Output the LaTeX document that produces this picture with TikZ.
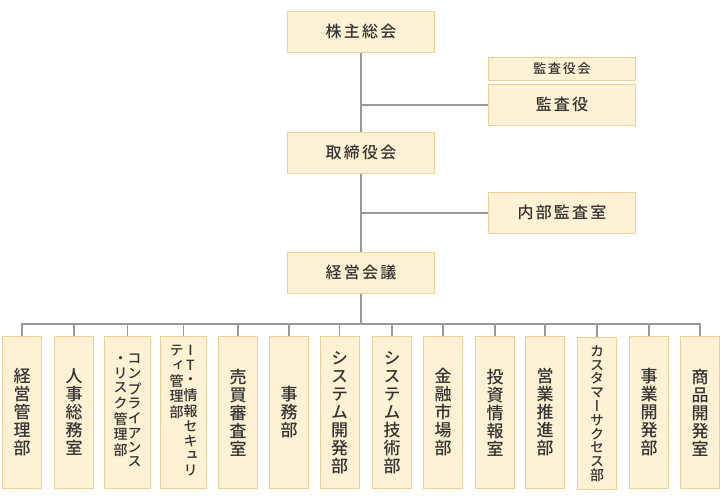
\documentclass[tikz,border=0pt]{standalone}
\usepackage{fontspec}
\setmainfont{Noto Sans CJK JP}[UprightFont=* Medium, LetterSpace=14]
\newfontfamily\tate{Noto Sans CJK JP}[UprightFont=* Medium, RawFeature=+vert]
\newfontfamily\yoko{Noto Sans CJK JP}[UprightFont=* Medium]
\usetikzlibrary{positioning,calc}

\definecolor{boxfill}{HTML}{FFF1D3}
\definecolor{boxline}{HTML}{E8D29A}
\definecolor{linkgray}{HTML}{999999}
\definecolor{txt}{HTML}{333333}

% one column of vertical text
\newcommand{\vcol}[1]{\begin{tabular}[t]{@{}c@{}}#1\end{tabular}}

\begin{document}
\begin{tikzpicture}[x=1pt, y=-1pt,
    post/.style={draw=boxline, fill=boxfill, line width=1pt, text=txt,
      minimum width=147pt, minimum height=41pt, inner sep=0pt,
      font=\fontsize{16}{18}\selectfont},
    dept/.style={draw=boxline, fill=boxfill, line width=1pt, text=txt,
      minimum width=39pt, minimum height=152pt, inner sep=0pt, align=center,
      font=\tate\fontsize{17}{18}\selectfont},
    wide/.style={dept, minimum width=46pt, font=\tate\fontsize{14}{14}\selectfont},
    link/.style={draw=linkgray, line width=1.5pt}]
    \useasboundingbox (0,0) rectangle (720,500);

    % Top management
    \node[post] (soukai) at (361,31.7) {株主総会};
    \node[post] (torishimari) at (361,152.7) {取締役会};
    \node[post] (keiei) at (361,272.7) {経営会議};

    % Audit side
    \node[post, minimum height=23pt, font=\fontsize{13}{14}\selectfont] (kansakai) at (562,68.8) {監査役会};
    \node[post] (kansa) at (562,104.8) {監査役};
    \node[post] (naibu) at (562,212.8) {内部監査室};

    % Departments
    \node[dept] (d1) at (22,412.5) {経\\営\\管\\理\\部};
    \node[dept] (d2) at (74,412.5) {人\\事\\総\\務\\室};
    \node[wide] (d3) at (127.5,412.5) {\vcol{・\\リ\\ス\\ク\\管\\理\\部}\vcol{コ\\ン\\プ\\ラ\\イ\\ア\\ン\\ス}};
    \node[wide] (d4) at (183.5,412.5) {\vcol{テ\\ィ\\管\\理\\部}\vcol{{\yoko I}\\{\yoko T}\\・\\情\\報\\セ\\キ\\ュ\\リ}};
    \node[dept] (d5) at (238,412.5) {売\\買\\審\\査\\室};
    \node[dept] (d6) at (289,412.5) {事\\務\\部};
    \node[dept] (d7) at (339.7,412.5) {シ\\ス\\テ\\ム\\開\\発\\部};
    \node[dept] (d8) at (392,412.5) {シ\\ス\\テ\\ム\\技\\術\\部};
    \node[dept] (d9) at (443,412.5) {金\\融\\市\\場\\部};
    \node[dept] (d10) at (495,412.5) {投\\資\\情\\報\\室};
    \node[dept] (d11) at (545,412.5) {営\\業\\推\\進\\部};
    \node[dept, font=\tate\fontsize{14}{13.8}\selectfont] (d12) at (597,413.5) {カ\\ス\\タ\\マ\\ー\\サ\\ク\\セ\\ス\\部};
    \node[dept] (d13) at (649,412.5) {事\\業\\開\\発\\部};
    \node[dept] (d14) at (700,412.5) {商\\品\\開\\発\\室};

    % Connectors
    \coordinate (bus) at (361,324);
    \draw[link] (soukai) -- (torishimari);
    \draw[link] (torishimari) -- (keiei);
    \draw[link] (keiei) -- (bus);
    \draw[link] (kansa.west) -- (kansa.west -| soukai.south);
    \draw[link] (naibu.west) -- (naibu.west -| torishimari.south);
    \draw[link, line cap=rect] (bus -| d1.north) -- (bus -| d14.north);
    \foreach \d in {d1,d2,d3,d4,d5,d6,d7,d8,d9,d10,d11,d12,d13,d14}
      \draw[link] (bus -| \d.north) -- (\d.north);
\end{tikzpicture}
\end{document}
